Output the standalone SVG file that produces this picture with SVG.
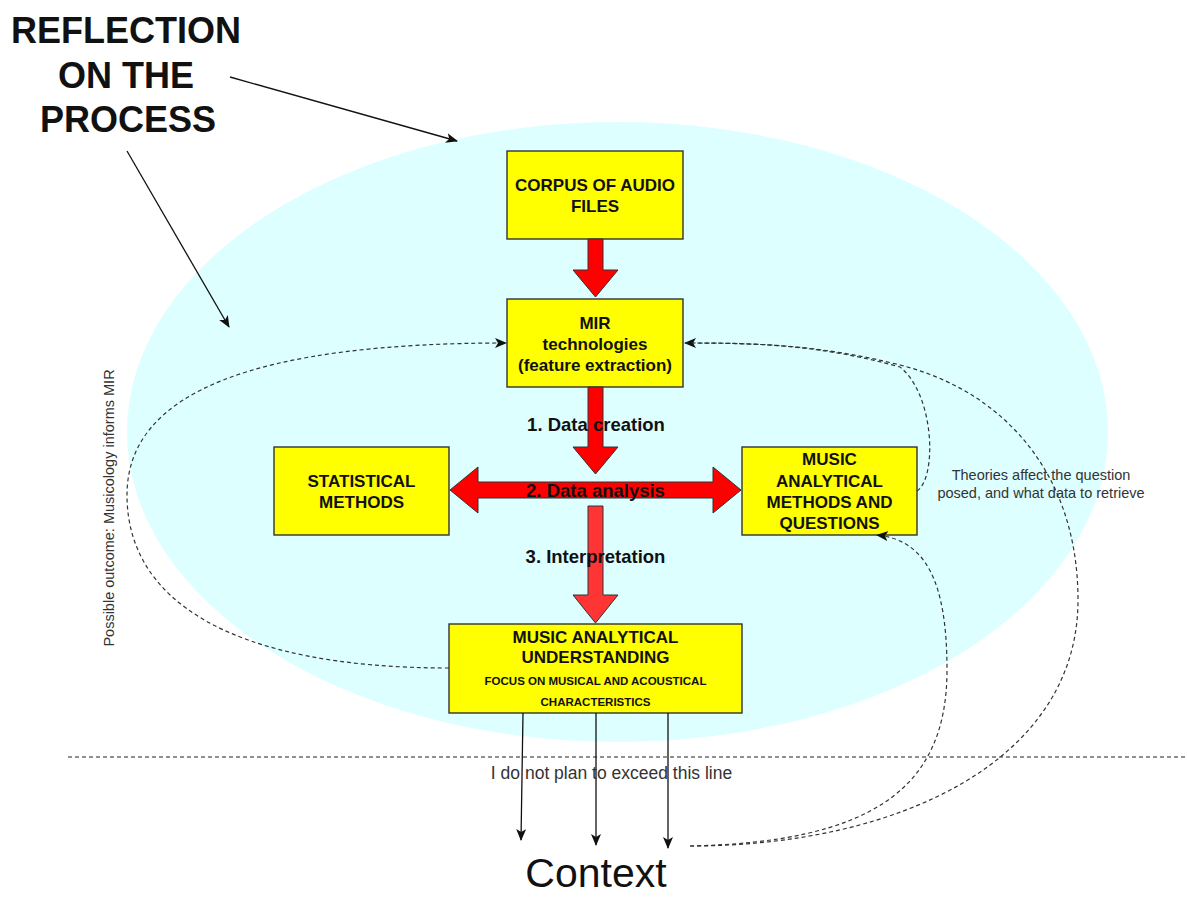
<svg xmlns="http://www.w3.org/2000/svg" width="1187" height="897" viewBox="0 0 1187 897">
  <defs>
    <style>
      .box { fill: #ffff00; stroke: #333333; stroke-width: 1.4; }
      .btxt { font-family: "Liberation Sans", Arial, sans-serif; font-weight: bold; font-size: 17px; fill: #111111; text-anchor: middle; }
      .small { font-size: 11.5px; }
      .red { fill: #ff0000; stroke: #333333; stroke-width: 1; stroke-linejoin: miter; }
      .red2 { fill: #ff3535; stroke: #333333; stroke-width: 1; }
      .step { font-family: "Liberation Sans", Arial, sans-serif; font-weight: bold; font-size: 18.5px; fill: #111111; text-anchor: middle; }
      .note { font-family: "Liberation Sans", Arial, sans-serif; font-size: 14.5px; fill: #333333; text-anchor: middle; }
      .note-big { font-size: 17.5px; }
      .solid { fill: none; stroke: #111111; stroke-width: 1.3; }
      .dash { fill: none; stroke: #333333; stroke-width: 1.2; stroke-dasharray: 4 3; }
    </style>
    <marker id="arrow" viewBox="0 0 12 10" markerUnits="userSpaceOnUse" markerWidth="12" markerHeight="10" refX="11" refY="5" orient="auto">
      <path d="M0,0 L12,5 L0,10 L3,5 Z" fill="#111111"/>
    </marker>
  </defs>

  <rect width="1187" height="897" fill="#ffffff"/>

  <!-- process area -->
  <ellipse id="process-area" cx="617.5" cy="432" rx="490.5" ry="310" fill="#ddffff"/>

  <!-- title -->
  <g id="title">
    <text font-family="Liberation Sans, Arial, sans-serif" font-weight="bold" font-size="36" fill="#111111" text-anchor="middle">
      <tspan x="131" y="43">REFLECTION</tspan>
      <tspan x="131" y="88">ON THE</tspan>
      <tspan x="128" y="132">PROCESS</tspan>
    </text>
  </g>

  <!-- boxes -->
  <g id="corpus">
    <rect class="box" x="507" y="151" width="176" height="88"/>
    <text class="btxt"><tspan x="595" y="191">CORPUS OF AUDIO</tspan><tspan x="595" y="212">FILES</tspan></text>
  </g>
  <g id="mir">
    <rect class="box" x="507" y="299" width="176" height="88"/>
    <text class="btxt"><tspan x="595" y="329">MIR</tspan><tspan x="595" y="350">technologies</tspan><tspan x="595" y="371">(feature extraction)</tspan></text>
  </g>
  <g id="statistical">
    <rect class="box" x="274" y="447" width="175" height="88"/>
    <text class="btxt"><tspan x="361.5" y="487">STATISTICAL</tspan><tspan x="361.5" y="508">METHODS</tspan></text>
  </g>
  <g id="analytical-methods">
    <rect class="box" x="742" y="447" width="175" height="88"/>
    <text class="btxt"><tspan x="829.5" y="465">MUSIC</tspan><tspan x="829.5" y="486.5">ANALYTICAL</tspan><tspan x="829.5" y="508">METHODS AND</tspan><tspan x="829.5" y="529">QUESTIONS</tspan></text>
  </g>
  <g id="understanding">
    <rect class="box" x="449" y="624" width="293" height="89"/>
    <text class="btxt"><tspan x="595.5" y="643">MUSIC ANALYTICAL</tspan><tspan x="595.5" y="663">UNDERSTANDING</tspan></text>
    <text class="btxt small"><tspan x="595.5" y="685">FOCUS ON MUSICAL AND ACOUSTICAL</tspan><tspan x="595.5" y="706">CHARACTERISTICS</tspan></text>
  </g>

  <!-- process flow arrows and step labels -->
  <g id="flow">
    <polygon class="red" points="588,239 603,239 603,270 618,270 595.5,297 573,270 588,270"/>
    <polygon class="red" points="588,387 603,387 603,447 618,447 595.5,474 573,447 588,447"/>
    <polygon class="red" points="450,490 478,467 478,482 713,482 713,467 741,490 713,513 713,498 478,498 478,513"/>
    <polygon class="red2" points="588,506 603,506 603,595 618,595 595.5,623 573,595 588,595"/>
    <text class="step" x="596" y="431">1. Data creation</text>
    <text class="step" x="595.5" y="497">2. Data analysis</text>
    <text class="step" x="595.5" y="563">3. Interpretation</text>
  </g>

  <!-- connectors -->
  <g id="connectors">
    <line class="solid" x1="230" y1="77" x2="457" y2="141" marker-end="url(#arrow)"/>
    <line class="solid" x1="127" y1="151" x2="229" y2="327" marker-end="url(#arrow)"/>

    <path class="dash" d="M449,668 C230,668 127,600 127,495 C127,390 260,343 506,343" marker-end="url(#arrow)"/>
    <path class="dash" d="M917,491 C937,478 935,395 900,367 C820,345 760,343 685,343" marker-end="url(#arrow)"/>
    <path class="dash" d="M690,846 C900,846 1078,760 1078,600 C1078,470 1000,390 900,365 C820,345 760,343 686,343"/>
    <path class="dash" d="M690,846 C870,842 947,790 947,670 C947,580 925,540 877,535" marker-end="url(#arrow)"/>

    <line x1="68" y1="757" x2="1187" y2="757" stroke="#222222" stroke-width="1.2" stroke-dasharray="4 3"/>

    <line class="solid" x1="523" y1="713" x2="521" y2="840" marker-end="url(#arrow)"/>
    <line class="solid" x1="596" y1="713" x2="596" y2="845" marker-end="url(#arrow)"/>
    <line class="solid" x1="668" y1="713" x2="668" y2="848" marker-end="url(#arrow)"/>
  </g>

  <!-- annotations -->
  <g id="annotations">
    <text class="note"><tspan x="1041" y="480">Theories affect the question</tspan><tspan x="1041" y="498">posed, and what data to retrieve</tspan></text>
    <text class="note" transform="translate(114,508) rotate(-90)" x="0" y="0">Possible outcome: Musicology informs MIR</text>
    <text class="note note-big" x="611.5" y="779">I do not plan to exceed this line</text>
  </g>

  <g id="context">
    <text x="596" y="887" font-family="Liberation Sans, Arial, sans-serif" font-size="41" fill="#111111" text-anchor="middle">Context</text>
  </g>
</svg>
